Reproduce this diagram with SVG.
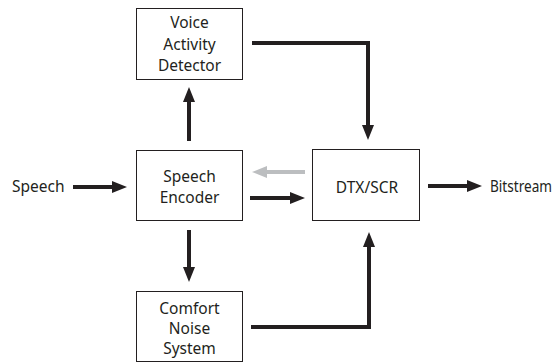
<svg xmlns="http://www.w3.org/2000/svg" width="560" height="362" viewBox="0 0 560 362">
  <defs>
    <style>
      .box { fill: #ffffff; stroke: #231f20; stroke-width: 1; }
      .lbl { font-family: "Noto Sans", "Open Sans", sans-serif; font-size: 15.5px; fill: #231f20; text-anchor: middle; }
      .side { text-anchor: start; }
      .wire { fill: none; stroke: #231f20; stroke-width: 4; stroke-linejoin: miter; }
      .wire.grey { stroke: #bcbec0; }
    </style>
    <marker id="head" markerUnits="userSpaceOnUse" markerWidth="15" markerHeight="12" refX="0" refY="6" orient="auto" overflow="visible">
      <path d="M0,0 L15,6 L0,12 z" fill="#231f20"/>
    </marker>
    <marker id="headGrey" markerUnits="userSpaceOnUse" markerWidth="15" markerHeight="12" refX="0" refY="6" orient="auto" overflow="visible">
      <path d="M0,0 L15,6 L0,12 z" fill="#bcbec0"/>
    </marker>
  </defs>

  <rect width="560" height="362" fill="#ffffff"/>

  <!-- connectors: line ends sit at the arrowhead base, heads add 15px -->
  <g id="connectors">
    <path class="wire" d="M73,187 H112" marker-end="url(#head)"/>
    <path class="wire" d="M189,141 V102" marker-end="url(#head)"/>
    <path class="wire" d="M189,230 V267" marker-end="url(#head)"/>
    <path class="wire" d="M252,43 H368 V125" marker-end="url(#head)"/>
    <path class="wire grey" d="M305,172 H267" marker-end="url(#headGrey)"/>
    <path class="wire" d="M250,198 H290" marker-end="url(#head)"/>
    <path class="wire" d="M251,327 H369 V247" marker-end="url(#head)"/>
    <path class="wire" d="M428,186 H467" marker-end="url(#head)"/>
  </g>

  <g id="speech-in">
    <text class="lbl side" x="12" y="192">Speech</text>
  </g>

  <g id="vad">
    <rect class="box" x="136.5" y="8.5" width="106" height="71"/>
    <text class="lbl" x="189.5" y="27.5">Voice</text>
    <text class="lbl" x="189.5" y="49.5">Activity</text>
    <text class="lbl" x="189.5" y="71">Detector</text>
  </g>

  <g id="encoder">
    <rect class="box" x="136.5" y="150.5" width="106" height="70"/>
    <text class="lbl" x="189.5" y="182">Speech</text>
    <text class="lbl" x="189.5" y="202.5">Encoder</text>
  </g>

  <g id="dtx">
    <rect class="box" x="312.5" y="149.5" width="107" height="71"/>
    <text class="lbl" x="367" y="192.5">DTX/SCR</text>
  </g>

  <g id="cns">
    <rect class="box" x="136.5" y="291.5" width="106" height="70"/>
    <text class="lbl" x="189.5" y="313.5">Comfort</text>
    <text class="lbl" x="189.5" y="334">Noise</text>
    <text class="lbl" x="189.5" y="354">System</text>
  </g>

  <g id="bitstream-out">
    <text class="lbl side" x="490" y="192" font-size="15" textLength="62" lengthAdjust="spacingAndGlyphs">Bitstream</text>
  </g>
</svg>
